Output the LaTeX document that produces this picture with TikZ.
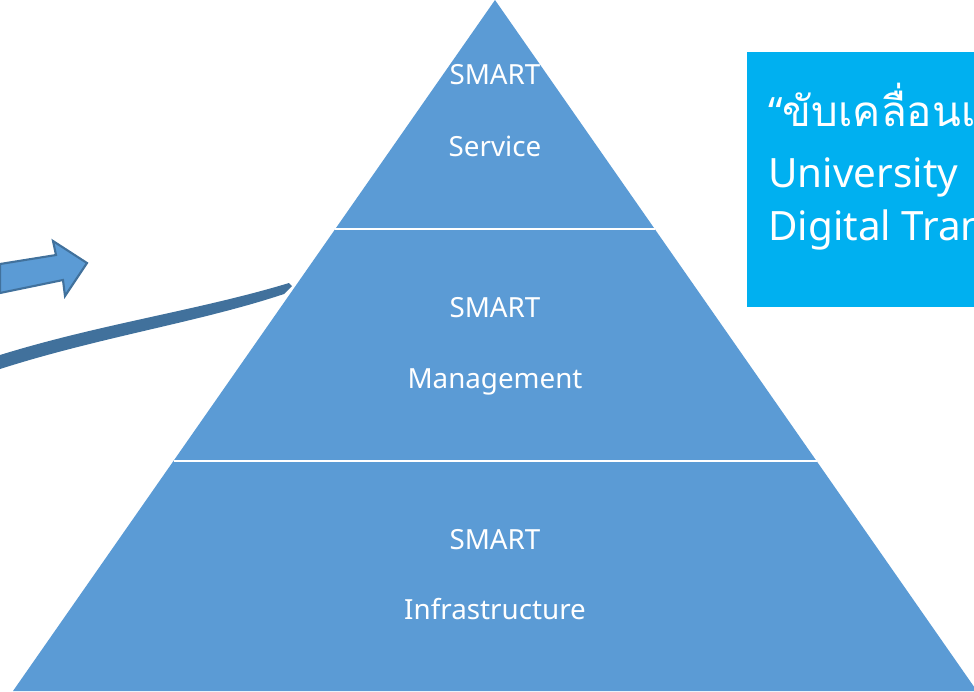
\documentclass[tikz,border=0pt]{standalone}
\usepackage{fontspec}
\setmainfont{Noto Sans}
\newfontfamily\thaifont[Script=Thai]{Loma}
\definecolor{pyrblue}{HTML}{5B9BD5}
\definecolor{edgeblue}{HTML}{41719C}
\definecolor{boxcyan}{HTML}{00B0F0}
\tikzset{
  layertext/.style={text=white, font=\fontsize{15.8}{18}\selectfont, inner sep=0pt, anchor=base},
  boxtext/.style={text=white, font=\fontsize{23}{27}\selectfont, inner sep=0pt, anchor=base west}
}

\begin{document}
\begin{tikzpicture}[x=0.02cm, y=-0.02cm]
		\useasboundingbox (0,0) rectangle (974,691);
		\clip (0,0) rectangle (974,691);

		\coordinate (apex) at (495,0);
		\coordinate (baseL) at (13,691);
		\coordinate (baseR) at (977,691);

		% draw the pyramid
		\fill [pyrblue] (apex) -- (baseR) -- (baseL) -- cycle;
		\coordinate (cut1L) at (335.3,229);
		\coordinate (cut1R) at (654.7,229);
		\coordinate (cut2L) at (173.5,461);
		\coordinate (cut2R) at (816.5,461);
		\draw [white, line width=1.6pt] (cut1L) -- (cut1R);
		\draw [white, line width=1.6pt] (cut2L) -- (cut2R);

		% labels of the layers
		\node [layertext] (svc1) at (495,84) {SMART};
		\node [layertext] (svc2) at (495,156) {Service};
		\node [layertext] (mgt1) at (495,317) {SMART};
		\node [layertext] (mgt2) at (495,388) {Management};
		\node [layertext] (inf1) at (495,549) {SMART};
		\node [layertext] (inf2) at (495,619) {Infrastructure};

		% the box on the right
		\fill [boxcyan] (747,52) rectangle (990,307);
		\node [boxtext] (line1) at (768,126) {“{\thaifont\fontsize{24}{28}\selectfont ขับเคลื่อนเ}};
		\node [boxtext] (line2) at (768,187) {University};
		\node [boxtext] (line3) at (768,240) {Digital Transformation};

		% block arrow on the left
		\draw [edgeblue, fill=pyrblue, line width=1.2pt, line join=miter]
			(0,264) -- (56,255) -- (53,241) -- (87,263) -- (65,296) -- (63,280) -- (0,293) -- cycle;

		% the long brush stroke
		\fill [edgeblue] (0,355) .. controls (100,324) and (200,310) .. (289,283)
			-- (292,286)
			.. controls (287,291) .. (284,294)
			.. controls (200,322) and (100,337) .. (0,369) -- cycle;
\end{tikzpicture}
\end{document}
